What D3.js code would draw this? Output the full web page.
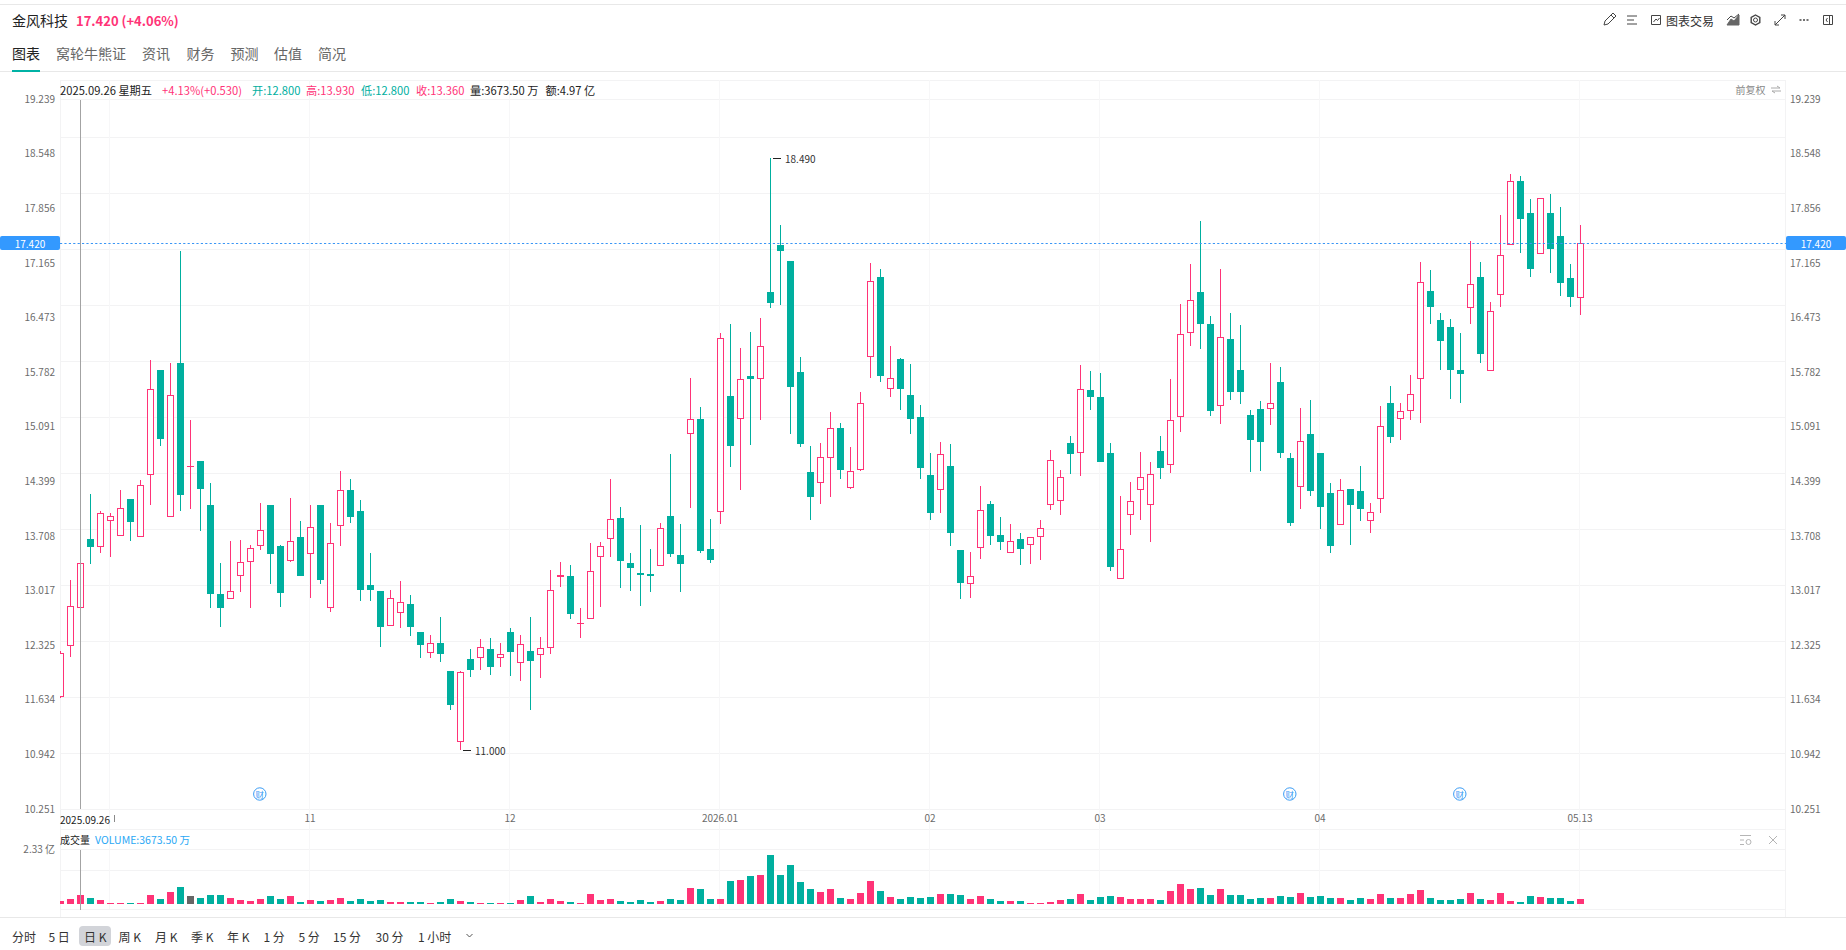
<!DOCTYPE html>
<html lang="zh-CN">
<head>
<meta charset="utf-8">
<title>金风科技 日K</title>
<script src="https://cdn.jsdelivr.net/npm/d3@7/dist/d3.min.js"></script>
<style>
  html, body { margin: 0; padding: 0; background: #fff; overflow: hidden; }
  svg { display: block; }
  text { font-family: "Noto Sans CJK SC", "Roboto", sans-serif; }
  .axis path, .axis line { display: none; }
  .axis text { font-family: "Noto Sans CJK SC", "Roboto", sans-serif; font-size: 10px; fill: #6b6b6b; }
</style>
</head>
<body>
<svg id="chart" width="1846" height="950"></svg>
<script>
// Daily candles, one entry per trading day
const opens = [
  11.668,12.319,12.8,13.669,13.572,13.901,13.711,14.175,13.699,14.484,
  15.809,13.952,15.897,14.585,14.657,14.099,12.973,12.914,13.205,13.374,
  13.576,14.099,13.58,13.395,13.694,13.483,14.099,12.8,13.829,14.289,
  14.024,13.087,13.011,12.572,12.736,12.846,12.491,12.23,12.352,11.998,
  11.103,12.149,12.166,12.276,12.166,12.491,12.103,12.251,12.204,12.293,
  13.192,13.2,12.597,12.66,13.445,13.673,13.935,13.365,13.234,13.226,
  13.331,13.96,13.466,15.002,15.188,13.542,14.006,15.479,15.192,15.732,
  15.698,16.796,17.391,17.188,15.783,14.517,14.382,14.698,15.074,14.319,
  14.546,15.977,16.986,15.572,15.947,15.492,15.213,14.479,14.293,14.593,
  13.529,13.103,13.559,14.112,13.719,13.496,13.669,13.597,13.698,14.103,
  14.154,14.884,14.762,15.555,15.466,14.757,13.166,13.976,14.293,14.103,
  14.782,14.609,15.217,16.28,16.795,16.39,15.356,16.2,15.808,15.238,
  15.314,15.318,15.656,14.694,14.331,14.998,14.757,14.251,13.85,14.301,
  14.276,13.9,14.17,15.39,15.192,15.293,15.698,16.808,16.441,16.352,
  15.808,16.597,16.985,15.799,16.762,17.395,18.201,17.796,17.281,17.796,
  17.505,16.973,16.724
];
const highs = [
  12.25,13.15,13.93,14.239,14.024,13.994,14.289,14.175,14.416,15.935,
  15.809,15.897,17.315,15.176,14.657,14.378,13.365,13.644,13.656,13.593,
  14.125,14.099,13.593,14.188,13.897,14.099,14.099,13.872,14.53,14.429,
  14.163,13.492,13.011,13.023,13.137,12.96,12.491,12.453,12.681,11.998,
  11.998,12.276,12.403,12.415,12.352,12.542,12.453,12.681,12.428,13.276,
  13.377,13.339,12.795,13.618,13.631,14.428,14.074,13.491,13.846,13.542,
  13.871,14.745,13.859,15.707,15.34,13.922,16.277,16.391,16.087,16.289,
  16.467,18.49,17.644,17.188,15.973,14.846,14.884,15.276,15.137,14.833,
  15.53,17.163,17.087,16.112,15.96,15.884,15.365,14.757,14.897,14.871,
  13.529,13.504,14.34,14.15,13.947,13.859,13.745,13.69,13.909,14.795,
  14.542,14.973,15.872,15.796,15.77,14.884,14.213,14.39,14.77,14.643,
  14.972,15.694,16.643,17.15,17.694,16.491,17.086,16.529,16.377,15.301,
  15.415,15.896,15.846,14.757,15.327,15.428,14.757,14.377,14.428,14.301,
  14.592,14.124,15.352,15.605,15.39,15.744,17.175,17.074,16.529,16.453,
  16.276,17.441,17.175,16.669,17.771,18.29,18.264,17.973,17.982,18.037,
  17.872,17.15,17.644
];
const lows = [
  11.66,12.175,12.8,13.353,13.492,13.441,13.711,13.644,13.699,14.099,
  14.846,13.952,14.024,14.049,13.77,12.796,12.555,12.914,12.998,12.796,
  13.53,13.099,12.808,13.378,13.201,12.922,13.099,12.745,13.58,13.872,
  12.884,12.884,12.302,12.572,12.542,12.441,12.162,12.162,12.111,11.504,
  11.0,11.922,12.01,11.947,12.048,11.934,11.871,11.504,11.909,12.213,
  13.061,12.656,12.415,12.66,12.808,13.441,13.048,13.01,12.82,12.998,
  13.331,13.441,12.998,14.061,13.491,13.365,13.859,14.58,14.289,14.859,
  15.175,16.593,16.631,14.998,14.833,13.909,14.112,14.2,14.428,14.302,
  14.53,15.707,15.656,15.466,15.302,14.998,14.428,13.909,13.998,13.58,
  12.909,12.922,13.416,13.593,13.529,13.496,13.34,13.352,13.403,14.036,
  13.973,14.492,14.466,15.302,14.644,13.263,13.166,13.719,13.909,13.63,
  14.428,14.504,15.023,16.112,16.074,15.225,15.124,15.428,15.377,14.516,
  14.529,15.111,14.694,13.833,14.048,14.213,13.795,13.491,13.85,13.592,
  13.896,13.744,13.997,14.884,14.922,15.175,15.137,16.39,15.808,15.441,
  15.39,16.39,15.896,15.799,16.606,17.395,17.29,16.986,17.281,17.036,
  16.745,16.606,16.505
];
const closes = [
  12.226,12.817,13.36,13.568,13.994,13.956,14.057,13.884,14.348,15.564,
  14.935,15.488,14.226,14.593,14.302,12.973,12.796,13.007,13.374,13.551,
  13.779,13.479,12.985,13.64,13.201,13.817,13.15,13.614,14.285,13.948,
  13.023,13.023,12.555,12.918,12.867,12.555,12.327,12.348,12.213,11.567,
  11.981,12.01,12.297,12.048,12.209,12.238,12.335,12.124,12.284,13.019,
  13.209,12.719,12.605,13.259,13.576,13.918,13.39,13.302,13.213,13.2,
  13.804,13.479,13.352,15.184,13.517,13.403,16.209,14.846,15.69,15.694,
  16.108,16.656,17.315,15.593,14.871,14.2,14.703,15.07,14.542,14.525,
  15.386,16.931,15.732,15.703,15.568,15.188,14.568,13.998,14.741,13.745,
  13.112,13.196,14.032,13.707,13.631,13.639,13.542,13.69,13.804,14.665,
  14.449,14.745,15.564,15.466,14.644,13.314,13.537,14.145,14.449,14.487,
  14.567,15.171,16.259,16.69,16.39,15.289,16.221,15.529,15.529,14.922,
  14.896,15.386,14.757,13.871,14.905,14.276,14.073,13.58,14.284,14.099,
  14.048,14.006,15.095,14.96,15.285,15.5,16.918,16.605,16.175,15.808,
  15.757,16.892,16.01,16.551,17.26,18.197,17.72,17.087,17.982,17.34,
  16.91,16.733,17.42
];
// Turnover per day, in 亿 shares
const volumes = [
  .13,.21,.367,.25,.17,.04,.04,.04,.04,.38,
  .21,.51,.72,.34,.25,.38,.38,.25,.17,.13,
  .21,.34,.21,.34,.08,.17,.13,.17,.25,.13,
  .21,.13,.17,.08,.08,.08,.08,.04,.08,.21,
  .13,.08,.04,.04,.04,.04,.17,.34,.08,.21,
  .13,.08,.04,.42,.17,.21,.13,.08,.17,.08,
  .13,.21,.17,.68,.63,.21,.21,.97,1.02,1.18,
  1.23,2.07,1.23,1.65,.93,.63,.51,.63,.25,.21,
  .47,.97,.55,.30,.21,.30,.25,.30,.42,.42,
  .38,.21,.34,.21,.13,.13,.13,.04,.04,.08,
  .17,.21,.42,.17,.30,.34,.30,.21,.21,.21,
  .17,.55,.85,.63,.68,.38,.63,.38,.38,.21,
  .25,.25,.34,.30,.47,.30,.34,.25,.25,.17,
  .25,.21,.42,.25,.25,.42,.59,.25,.17,.17,
  .21,.47,.21,.17,.47,.13,.08,.34,.30,.25,
  .25,.13,.21
];
const unchangedDays = [13];             // closed level with the previous day
const earningsDays = [20, 123, 140];    // 财 markers
const crosshairDay = 2;
const lastPrice = 17.42;

const priceTicks = [19.239,18.548,17.856,17.165,16.473,15.782,15.091,14.399,13.708,13.017,12.325,11.634,10.942,10.251];
const volumeTicks = [2.33];
const monthStartDays = [5, 25, 45, 66, 87, 104, 126, 152];
const labelledDays = [25, 45, 66, 87, 104, 126, 152];   // October sits under the crosshair caption
const labelledMonths = ["11", "12", "2026.01", "02", "03", "04", "05.13"];

const tabs = ["图表", "窝轮牛熊证", "资讯", "财务", "预测", "估值", "简况"];
const periods = ["分时", "5 日", "日 K", "周 K", "月 K", "季 K", "年 K", "1 分", "5 分", "15 分", "30 分", "1 小时"];

const UP = "#ff3377", DOWN = "#00af9f", FLAT = "#666666", TAG = "#3399ff", GRID = "#f3f3f4";

const svg = d3.select("#chart");
const plot = { left: 60, right: 1785, top: 80, bottom: 809, volTop: 829, volBottom: 909 };

const x = d3.scaleLinear().domain([0, opens.length - 1]).range([60.5, 1580.5]);
const y = d3.scaleLinear().domain([10.251, 19.239]).range([809, 99]);
const yVol = d3.scaleLinear().domain([0, 2.33]).range([904, 849]);
const px = v => Math.round(v);

function label(g, str, xPos, yPos, size, fill, extra = {}) {
  const t = g.append("text")
    .attr("x", xPos).attr("y", yPos)
    .attr("dominant-baseline", "central")
    .attr("font-size", size).attr("fill", fill)
    .text(str);
  Object.entries(extra).forEach(([k, v]) => t.attr(k, v));
  return t;
}

/* ---------- header, tabs and footer rules ---------- */
const chrome = svg.append("g");
[4.5, 71.5, 917.5].forEach(v => chrome.append("line")
  .attr("x1", 0).attr("x2", 1846).attr("y1", v).attr("y2", v)
  .attr("stroke", "#e8e8e8"));

label(chrome, "金风科技", 12, 20, 14, "#222");
label(chrome, "17.420 (+4.06%)", 76, 20, 13, UP, { "font-weight": 600 });

const tabX = [12, 56, 142, 186.5, 230.5, 274, 318];
tabs.forEach((t, i) => label(chrome, t, tabX[i], 53, 14, i === 0 ? "#222" : "#666"));
chrome.append("rect").attr("x", 12).attr("y", 70).attr("width", 28).attr("height", 2).attr("fill", "#00b2a5");

label(chrome, "图表交易", 1666, 20, 12, "#333");

/* toolbar icons */
const icons = chrome.append("g").attr("fill", "none").attr("stroke", "#444").attr("stroke-width", 1);
icons.append("path").attr("d", "M1604 25l1-4 8-8 3 3-8 8zM1611 15l3 3");
icons.append("path").attr("d", "M1627 16h10M1627 20h7M1627 24h10");
icons.append("path").attr("d", "M1651.5 15.5h9v9h-9zM1653.5 22l2.5-3 1.5 1.5 2-2.5");
icons.append("path").attr("d", "M1727 25l4-6 3 2 5-6v10z").attr("fill", "#666").attr("stroke", "#666");
icons.append("path").attr("d", "M1727 20l4-4 3 2 5-4").attr("stroke", "#444");
icons.append("circle").attr("cx", 1755.5).attr("cy", 20).attr("r", 2);
icons.append("path").attr("d", "M1755.5 15l4.3 2.5v5l-4.3 2.5-4.3-2.5v-5z").attr("stroke-width", 1.4);
icons.append("path").attr("d", "M1775 25l10-10M1781 15h4v4M1775 21v4h4");
icons.append("path").attr("d", "M1799.5 20h2M1803 20h2M1806.5 20h2").attr("stroke-width", 1.4);
icons.append("path").attr("d", "M1823.5 15.5h9v9h-9zM1829.5 15.5v9M1827.5 18l-1.5 2 1.5 2");

/* ---------- grid ---------- */
const grid = svg.append("g").attr("shape-rendering", "crispEdges").attr("stroke", GRID);
const gridRows = [plot.top, 99].concat(d3.range(137, plot.bottom + 1, 56), [plot.volTop, 849, 870, plot.volBottom]);
gridRows.forEach(r => grid.append("line")
  .attr("x1", plot.left).attr("x2", plot.right)
  .attr("y1", r + 0.5).attr("y2", r + 0.5));
monthStartDays.forEach(d => grid.append("line")
  .attr("x1", x(d) - 1).attr("x2", x(d) - 1)
  .attr("y1", plot.top).attr("y2", plot.volBottom)
  .attr("stroke", "#f7f7f8"));
[plot.left, plot.right].forEach(c => grid.append("line")
  .attr("x1", c + 0.5).attr("x2", c + 0.5)
  .attr("y1", plot.top).attr("y2", plot.volBottom + 8));

/* ---------- price candles ---------- */
svg.append("clipPath").attr("id", "plot-clip").append("rect")
  .attr("x", plot.left).attr("y", plot.top)
  .attr("width", plot.right - plot.left).attr("height", plot.volBottom - plot.top);

const days = d3.range(opens.length);
const isUp = d => closes[d] >= opens[d];

const candles = svg.append("g")
  .attr("clip-path", "url(#plot-clip)")
  .attr("shape-rendering", "crispEdges")
  .selectAll("g").data(days).join("g");

candles.append("line")
  .attr("x1", d => x(d)).attr("x2", d => x(d))
  .attr("y1", d => px(y(highs[d]))).attr("y2", d => px(y(lows[d])))
  .attr("stroke", d => isUp(d) ? UP : DOWN);

candles.append("rect")
  .each(function (d) {
    const top = px(y(Math.max(opens[d], closes[d])));
    const bottom = Math.max(px(y(Math.min(opens[d], closes[d]))), top + 1);
    const sel = d3.select(this);
    if (isUp(d) && bottom - top > 2) {
      sel.attr("x", x(d) - 3).attr("width", 6)
        .attr("y", top + 0.5).attr("height", bottom - top - 1)
        .attr("fill", "#fff").attr("stroke", UP);
    } else {
      sel.attr("x", x(d) - 3.5).attr("width", 7)
        .attr("y", top).attr("height", bottom - top)
        .attr("fill", isUp(d) ? UP : DOWN);
    }
  });

/* last price line */
const lastY = px(y(lastPrice)) + 0.5;
svg.append("line")
  .attr("x1", plot.left).attr("x2", plot.right + 1)
  .attr("y1", lastY).attr("y2", lastY)
  .attr("stroke", "#3a96f5").attr("stroke-dasharray", "2.2 2.2");

/* extreme price notes */
const highDay = d3.maxIndex(highs), lowDay = d3.minIndex(lows);
[[highDay, highs[highDay]], [lowDay, lows[lowDay]]].forEach(([d, v]) => {
  const ny = px(y(v)) + 0.5;
  svg.append("line").attr("x1", x(d) + 2.5).attr("x2", x(d) + 10.5)
    .attr("y1", ny).attr("y2", ny).attr("stroke", "#222").attr("shape-rendering", "crispEdges");
  label(svg, d3.format(".3f")(v), x(d) + 14.5, ny, 10, "#333");
});

/* earnings markers */
const marks = svg.append("g");
earningsDays.forEach(d => {
  marks.append("circle").attr("cx", x(d) - 0.7).attr("cy", 794).attr("r", 6.2)
    .attr("fill", "#fff").attr("stroke", "#3a9cf5");
  label(marks, "财", x(d) - 0.7, 794, 8.5, "#3a9cf5", { "text-anchor": "middle" });
});

/* ---------- price axes ---------- */
const fmt = d3.format(".3f");
svg.append("g").attr("class", "axis").attr("transform", "translate(55,0)")
  .call(d3.axisLeft(y).tickValues(priceTicks).tickSize(0).tickPadding(0).tickFormat(fmt));
svg.append("g").attr("class", "axis").attr("transform", "translate(1790,0)")
  .call(d3.axisRight(y).tickValues(priceTicks).tickSize(0).tickPadding(0).tickFormat(fmt));

/* time axis */
svg.append("g").attr("class", "axis").attr("transform", "translate(-1,815)")
  .call(d3.axisBottom(x).tickValues(labelledDays).tickSize(0).tickPadding(0)
    .tickFormat(d => labelledMonths[labelledDays.indexOf(d)]));

/* last price tags */
[[0, 60], [plot.right + 1, 60]].forEach(([tx, w]) => {
  svg.append("rect").attr("x", tx).attr("y", lastY - 7.5).attr("width", w).attr("height", 14)
    .attr("rx", 2).attr("fill", TAG);
  label(svg, fmt(lastPrice), tx + w / 2, lastY - 0.5, 10, "#fff", { "text-anchor": "middle" });
});

/* ---------- volume pane ---------- */
const flatSet = new Set(unchangedDays);
svg.append("g").attr("shape-rendering", "crispEdges").attr("clip-path", "url(#plot-clip)")
  .selectAll("rect").data(days).join("rect")
  .attr("x", d => x(d) - 3.5).attr("width", 7)
  .attr("y", d => px(yVol(volumes[d])))
  .attr("height", d => 904 - px(yVol(volumes[d])))
  .attr("fill", d => flatSet.has(d) ? FLAT : (isUp(d) ? UP : DOWN));

svg.append("g").attr("class", "axis").attr("transform", "translate(55,0)")
  .call(d3.axisLeft(yVol).tickValues(volumeTicks).tickSize(0).tickPadding(0)
    .tickFormat(v => v + " 亿"));

/* ---------- crosshair and its captions ---------- */
const cross = svg.append("g").attr("shape-rendering", "crispEdges").attr("stroke", "#a3a3a3");
cross.append("line").attr("x1", x(crosshairDay)).attr("x2", x(crosshairDay)).attr("y1", 100).attr("y2", plot.bottom);
cross.append("line").attr("x1", x(crosshairDay)).attr("x2", x(crosshairDay)).attr("y1", 850).attr("y2", plot.volBottom + 1);

label(svg, "2025.09.26", 60, 819, 10, "#222");
// sliver of the month label peeking out past the caption box
svg.append("line").attr("x1", 114.5).attr("x2", 114.5).attr("y1", 815).attr("y2", 822)
  .attr("stroke", "#8a8a8a").attr("shape-rendering", "crispEdges");

const ci = crosshairDay;
const dec3 = d3.format(".3f");
const legend = [
  ["2025.09.26 星期五", 60, "#222"],
  ["+4.13%(+0.530)", 162, UP],
  ["开:" + dec3(opens[ci]), 252, DOWN],
  ["高:" + dec3(highs[ci]), 306, UP],
  ["低:" + dec3(lows[ci]), 361, DOWN],
  ["收:" + dec3(closes[ci]), 416, UP],
  ["量:3673.50 万", 470, "#222"],
  ["额:4.97 亿", 545.5, "#222"]
];
legend.forEach(([s, lx, c]) => label(svg, s, lx, 89.5, 11.2, c));

label(svg, "前复权", 1735.5, 89.5, 10, "#888");
svg.append("path").attr("d", "M1771 88h9l-3-2M1781 91h-9l3 2").attr("fill", "none").attr("stroke", "#aaa");

label(svg, "成交量", 60, 839, 10, "#222");
label(svg, "VOLUME:3673.50 万", 95, 839, 10.5, "#2aa8f5");

/* volume pane controls */
const paneIcons = svg.append("g").attr("fill", "none").attr("stroke", "#b5b5b5");
paneIcons.append("path").attr("d", "M1740 835.5h11M1740 840h4M1740 844.5h4");
paneIcons.append("circle").attr("cx", 1748.5).attr("cy", 842).attr("r", 2.5);
paneIcons.append("path").attr("d", "M1769 836l8 8M1777 836l-8 8");

/* ---------- period selector ---------- */
svg.append("rect").attr("x", 79).attr("y", 926).attr("width", 32).attr("height", 20).attr("rx", 4).attr("fill", "#d2d4d9");
const periodX = [12, 48.5, 84, 118.5, 155, 191, 227, 263.5, 298.5, 333, 375.5, 418];
periods.forEach((p, i) => label(svg, p, periodX[i], 936, 12, "#333"));
svg.append("path").attr("d", "M466.5 934l3 3 3-3").attr("fill", "none").attr("stroke", "#555");
</script>
</body>
</html>
